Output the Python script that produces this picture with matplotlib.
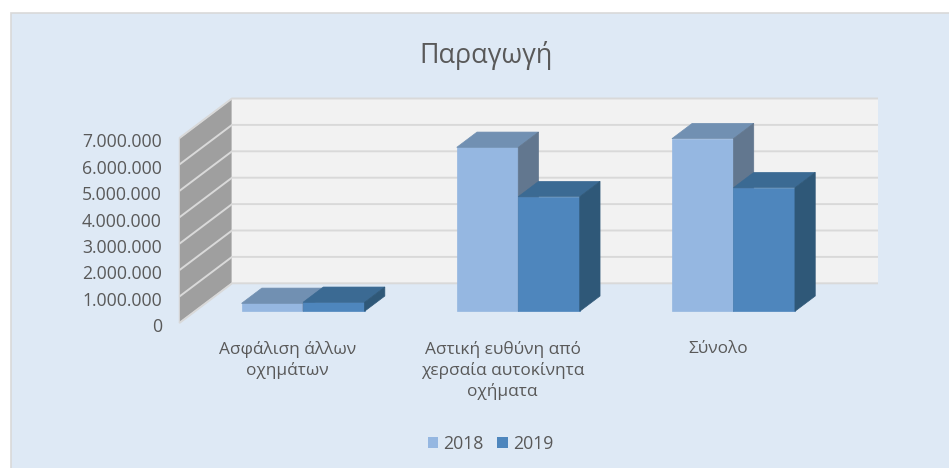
"""Παραγωγή chart: Excel style 3D clustered columns, projected by hand onto a flat axes."""

import matplotlib
matplotlib.use("Agg")
import matplotlib.pyplot as plt
from matplotlib.patches import Patch, Polygon, Rectangle
from matplotlib.transforms import offset_copy

plt.rcParams["font.family"] = ["Open Sans", "DejaVu Sans"]

CATEGORIES = ["Ασφάλιση άλλων\nοχημάτων", "Αστική ευθύνη από\nχερσαία αυτοκίνητα\nοχήματα", "Σύνολο"]
YEARS = ["2018", "2019"]
VALUES_2018 = [300000, 6210000, 6540000]
VALUES_2019 = [340000, 4340000, 4680000]
Y_TICKS = [0, 1000000, 2000000, 3000000, 4000000, 5000000, 6000000, 7000000]

W, H = 949, 468
PX_PER_CAT = 215.2
PX_PER_UNIT = 26.4 / 1e6
X0_PX = 287.5                     # pixel of category 0
Y0_PX = 323                       # pixel of value 0 at the front of the floor

BG = "#DEE9F5"
WALL = "#F2F2F2"
SIDE_WALL = "#9F9F9F"
GRID = "#D9D9D9"
TEXT = "#595959"
# front, top, side
COLORS = [("#95B7E1", "#7190B2", "#62778F"), ("#4E86BD", "#3B6A93", "#2F5878")]

BAR_W = 61.5 / PX_PER_CAT
DEPTH_DX = 52.7 / PX_PER_CAT      # whole floor depth, x units
DEPTH_DY = 39.7 / PX_PER_UNIT     # whole floor depth, value units
WALL_LEFT = -108.2 / PX_PER_CAT   # front left corner of the side wall
WALL_RIGHT = 537.8 / PX_PER_CAT   # back wall right end, before projection


def proj(x, v, d):
    """Oblique projection: d is 0 at the front of the floor, 1 at the back wall."""
    return (x + d * DEPTH_DX, v + d * DEPTH_DY)


def draw_bar(ax, x0, value, colors):
    x1 = x0 + BAR_W
    d0, d1 = 0.295, 0.68
    front, top, side = colors
    ax.add_patch(Polygon([proj(x0, 0, d0), proj(x1, 0, d0), proj(x1, value, d0), proj(x0, value, d0)],
                         fc=front, ec=front, lw=0.5, zorder=3))
    ax.add_patch(Polygon([proj(x0, value, d0), proj(x1, value, d0), proj(x1, value, d1), proj(x0, value, d1)],
                         fc=top, ec=top, lw=0.5, zorder=3))
    ax.add_patch(Polygon([proj(x1, 0, d0), proj(x1, 0, d1), proj(x1, value, d1), proj(x1, value, d0)],
                         fc=side, ec=side, lw=0.5, zorder=3))


def main():
    fig = plt.figure(figsize=(W / 100, H / 100), dpi=100, facecolor="white")
    ax = fig.add_axes([0, 0, 1, 1])
    ax.set_xlim(-X0_PX / PX_PER_CAT, (W - X0_PX) / PX_PER_CAT)
    ax.set_ylim((Y0_PX - H) / PX_PER_UNIT, Y0_PX / PX_PER_UNIT)
    ax.axis("off")

    # chart area, runs off the right and bottom of the picture
    ax.add_patch(Rectangle((10.5 / W, -1), 2, 1 + (H - 13) / H, transform=ax.transAxes,
                           fc=BG, ec=GRID, lw=1.2, zorder=0))

    # walls
    top_val = Y_TICKS[-1]
    ax.add_patch(Polygon([proj(WALL_LEFT, 0, 0), proj(WALL_LEFT, 0, 1), proj(WALL_LEFT, top_val, 1),
                          proj(WALL_LEFT, top_val, 0)], fc=SIDE_WALL, ec=GRID, lw=0.8, zorder=1))
    ax.add_patch(Polygon([proj(WALL_LEFT, 0, 1), proj(WALL_RIGHT, 0, 1), proj(WALL_RIGHT, top_val, 1),
                          proj(WALL_LEFT, top_val, 1)], fc=WALL, ec="none", zorder=1))
    tick_trans = offset_copy(ax.get_yaxis_transform(), fig=fig, y=-3.0, units="points")
    for tick in Y_TICKS:
        a, b, c = proj(WALL_LEFT, tick, 0), proj(WALL_LEFT, tick, 1), proj(WALL_RIGHT, tick, 1)
        ax.plot([a[0], b[0], c[0]], [a[1], b[1], c[1]], color=GRID, lw=1.4, zorder=2,
                solid_joinstyle="miter", solid_capstyle="butt")
        ax.text(162 / W, tick, f"{tick:,}".replace(",", "."), transform=tick_trans,
                ha="right", va="center", fontsize=12.7, color=TEXT)

    # columns, 2018 first so 2019 covers its side face
    for i in range(len(CATEGORIES)):
        draw_bar(ax, i - BAR_W, VALUES_2018[i], COLORS[0])
        draw_bar(ax, i, VALUES_2019[i], COLORS[1])
        ax.text(i, 1 - 341 / H, CATEGORIES[i], transform=ax.get_xaxis_transform(),
                ha="center", va="top", fontsize=12.4, color=TEXT, linespacing=1.3)

    ax.text(486.5 / W, 1 - 55.5 / H, "Παραγωγή", transform=ax.transAxes, ha="center", va="center",
            fontsize=19.4, color=TEXT)

    handles = [Patch(fc=COLORS[0][0], label=YEARS[0]), Patch(fc=COLORS[1][0], label=YEARS[1])]
    ax.legend(handles=handles, ncol=2, frameon=False, loc="center", bbox_to_anchor=(490.5 / W, 1 - 444 / H),
              fontsize=12.7, labelcolor=TEXT, handlelength=0.6, handleheight=0.6, handletextpad=0.3,
              columnspacing=0.75, borderpad=0)

    fig.savefig("out.png", dpi=100, facecolor="white")


if __name__ == "__main__":
    main()
